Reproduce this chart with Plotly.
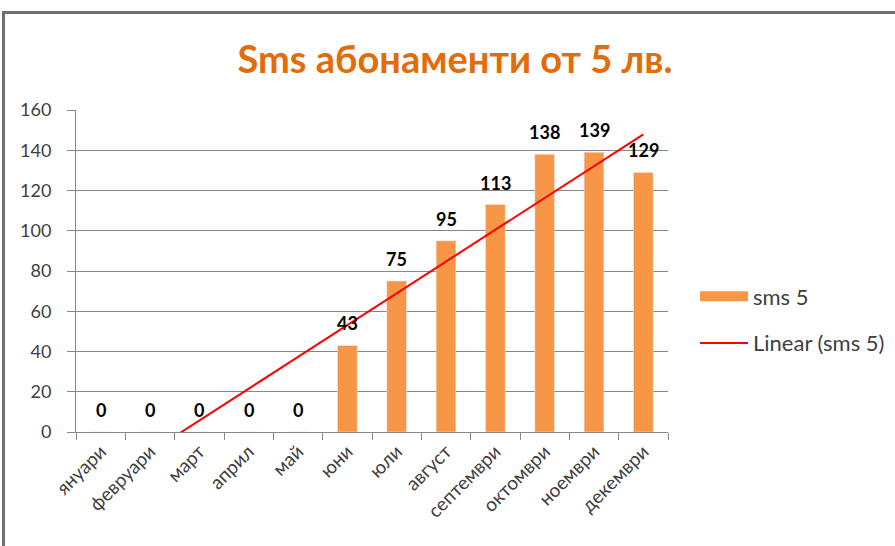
import numpy as np
import plotly.graph_objects as go

months = ["януари", "февруари", "март", "април", "май", "юни", "юли",
          "август", "септември", "октомври", "ноември", "декември"]
sms5 = [0, 0, 0, 0, 0, 43, 75, 95, 113, 138, 139, 129]
y_ticks = [0, 20, 40, 60, 80, 100, 120, 140, 160]

# linear trendline fitted to the series (as Excel does)
idx = np.arange(1, len(sms5) + 1)
slope, intercept = np.polyfit(idx, sms5, 1)
trend = slope * idx + intercept

BAR = "#F79646"
FONT = "Lato, 'Open Sans', sans-serif"

# plot area in page pixels (body margin removed below)
L, T, PW, PH = 76, 110, 592, 322
W, H = 895, 546

fig = go.Figure()
fig.add_trace(go.Bar(
    x=months, y=sms5, marker_color=BAR, showlegend=False,
    textposition="none", hoverinfo="x+y",
))
# legend swatch for the bars (wide bar, like Excel)
fig.add_trace(go.Scatter(
    x=[None], y=[None], mode="lines", name="sms 5",
    line=dict(color=BAR, width=12), legendgroup="a",
))
fig.add_trace(go.Scatter(
    x=months, y=trend, mode="lines", name="Linear (sms 5)",
    line=dict(color="#FF0000", width=2), legendgroup="b",
))

annotations = [
    dict(x=m, y=v, xref="x", yref="y", text=f"<b>{v}</b>", showarrow=False,
         yanchor="middle", yshift=22,
         font=dict(family=FONT, size=18, color="#000000"))
    for m, v in zip(months, sms5)
]

def px_x(p):
    return (p - L) / PW

def px_y(p):
    return (T + PH - p) / PH

fig.update_layout(
    width=W, height=H,
    margin=dict(l=L, r=W - L - PW, t=T, b=H - T - PH, autoexpand=False),
    paper_bgcolor="white", plot_bgcolor="white",
    bargap=0.6,
    title=dict(text="<b>Sms абонаменти от 5 лв.</b>", x=455 / W, xanchor="center",
               y=1 - 60 / H, yanchor="middle",
               font=dict(family=FONT, size=38, color="#E36C09")),
    legend=dict(x=px_x(695), xanchor="left", y=px_y(320), yanchor="middle",
                font=dict(family=FONT, size=22, color="#404040"),
                itemwidth=48, tracegroupgap=15, bgcolor="rgba(0,0,0,0)"),
    font=dict(family=FONT, color="#404040"),
    annotations=annotations,
    shapes=[dict(type="rect", xref="paper", yref="paper",
                 x0=px_x(3.5), x1=px_x(905),
                 y0=px_y(560), y1=px_y(12.5),
                 line=dict(color="#707070", width=3), layer="below")],
)
fig.update_xaxes(
    type="category", tickangle=-45, showgrid=False,
    showline=True, linecolor="#868686", linewidth=1,
    ticks="outside", tickson="boundaries", ticklen=7, tickcolor="#868686",
    tickfont=dict(family=FONT, size=19, color="#404040"),
)
fig.update_yaxes(
    range=[0, 160], tickvals=y_ticks, showgrid=True, gridcolor="#868686", gridwidth=1,
    showline=True, linecolor="#868686", linewidth=1, zeroline=False,
    ticks="outside", ticklen=8, tickcolor="#868686", ticklabelstandoff=12,
    tickfont=dict(family=FONT, size=18, color="#404040"),
)

fig.write_html("out.html", config={"displayModeBar": False},
               post_script="document.body.style.margin='0';document.body.style.overflow='hidden';")
